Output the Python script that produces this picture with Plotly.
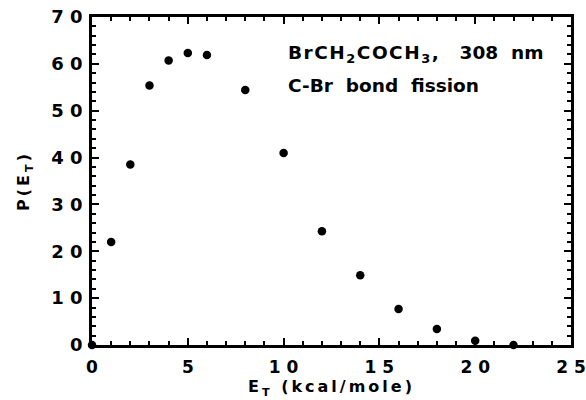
import plotly.graph_objects as go

# Data
energy = [0, 1, 2, 3, 4, 5, 6, 8, 10, 12, 14, 16, 18, 20, 22]
prob = [0, 22.0, 38.5, 55.4, 60.7, 62.3, 61.9, 54.4, 41.0, 24.3, 14.9, 7.7, 3.4, 0.9, 0.0]

x_tickvals = [0, 5, 10, 15, 20, 25]
x_ticktext = ["0", "5", "1 0", "1 5", "2 0", "2 5"]
y_tickvals = [0, 10, 20, 30, 40, 50, 60, 70]
y_ticktext = ["0", "1 0", "2 0", "3 0", "4 0", "5 0", "6 0", "7 0"]

FONT = "DejaVu Sans, Liberation Sans, Arial, sans-serif"
BOLD = dict(family=FONT, color="black", weight="bold")

fig = go.Figure()
fig.add_trace(go.Scatter(
    x=energy, y=prob, mode="markers",
    marker=dict(color="black", size=8.5),
    cliponaxis=False, showlegend=False, hoverinfo="skip",
))
# invisible copy on the mirrored axes so the top/right tick axes are drawn
fig.add_trace(go.Scatter(
    x=energy, y=prob, mode="markers", xaxis="x2", yaxis="y2",
    marker=dict(color="rgba(0,0,0,0)", size=1),
    showlegend=False, hoverinfo="skip",
))

tick_common = dict(
    showline=True, linecolor="black", linewidth=2.5,
    ticks="inside", ticklen=7, tickwidth=2, tickcolor="black",
    showgrid=False, zeroline=False, automargin=False,
)

fig.update_layout(
    xaxis=dict(
        range=[0, 25], tickmode="array", tickvals=x_tickvals, ticktext=x_ticktext,
        minor=dict(dtick=1, ticks="inside", ticklen=4, tickwidth=1.5, tickcolor="black"),
        tickfont=dict(size=17, **BOLD), ticklabelstandoff=5,
        title=dict(text="E<sub>T</sub> (kcal/mole)", standoff=4, font=dict(size=16, **BOLD)),
        **tick_common,
    ),
    yaxis=dict(
        range=[0, 70], tickmode="array", tickvals=y_tickvals, ticktext=y_ticktext,
        minor=dict(dtick=2, ticks="inside", ticklen=4, tickwidth=1.5, tickcolor="black"),
        tickfont=dict(size=18, **BOLD), ticklabelstandoff=3,
        title=dict(text="P(E<sub>T</sub>)", standoff=18, font=dict(size=16, **BOLD)),
        **tick_common,
    ),
    xaxis2=dict(
        range=[0, 25], overlaying="x", side="top", anchor="y2",
        tickmode="array", tickvals=x_tickvals, showticklabels=False,
        minor=dict(dtick=1, ticks="inside", ticklen=4, tickwidth=1.5, tickcolor="black"),
        **tick_common,
    ),
    yaxis2=dict(
        range=[0, 70], overlaying="y", side="right", anchor="x2",
        tickmode="array", tickvals=y_tickvals, showticklabels=False,
        minor=dict(dtick=2, ticks="inside", ticklen=4, tickwidth=1.5, tickcolor="black"),
        **tick_common,
    ),
)

fig.add_annotation(x=10.15, y=62.0, xanchor="left", yanchor="middle", showarrow=False,
                   align="left",
                   text='<span style="letter-spacing:1.5px">BrCH<sub>2</sub>COCH<sub>3</sub>,</span>   308  nm',
                   font=dict(size=18.5, **BOLD))
fig.add_annotation(x=10.15, y=55.3, xanchor="left", yanchor="middle", showarrow=False,
                   align="left",
                   text="C-Br  bond  fission",
                   font=dict(size=18.5, **BOLD))

fig.update_layout(
    width=586, height=400,
    margin=dict(l=92, r=15, t=17, b=55),
    paper_bgcolor="white", plot_bgcolor="white",
    font=dict(family=FONT, color="black"),
)

css = ("var s=document.createElement('style');"
       "s.textContent='.xtitle,.ytitle{letter-spacing:3px;}';"
       "document.head.appendChild(s);")
fig.write_html("out.html", post_script=css)
